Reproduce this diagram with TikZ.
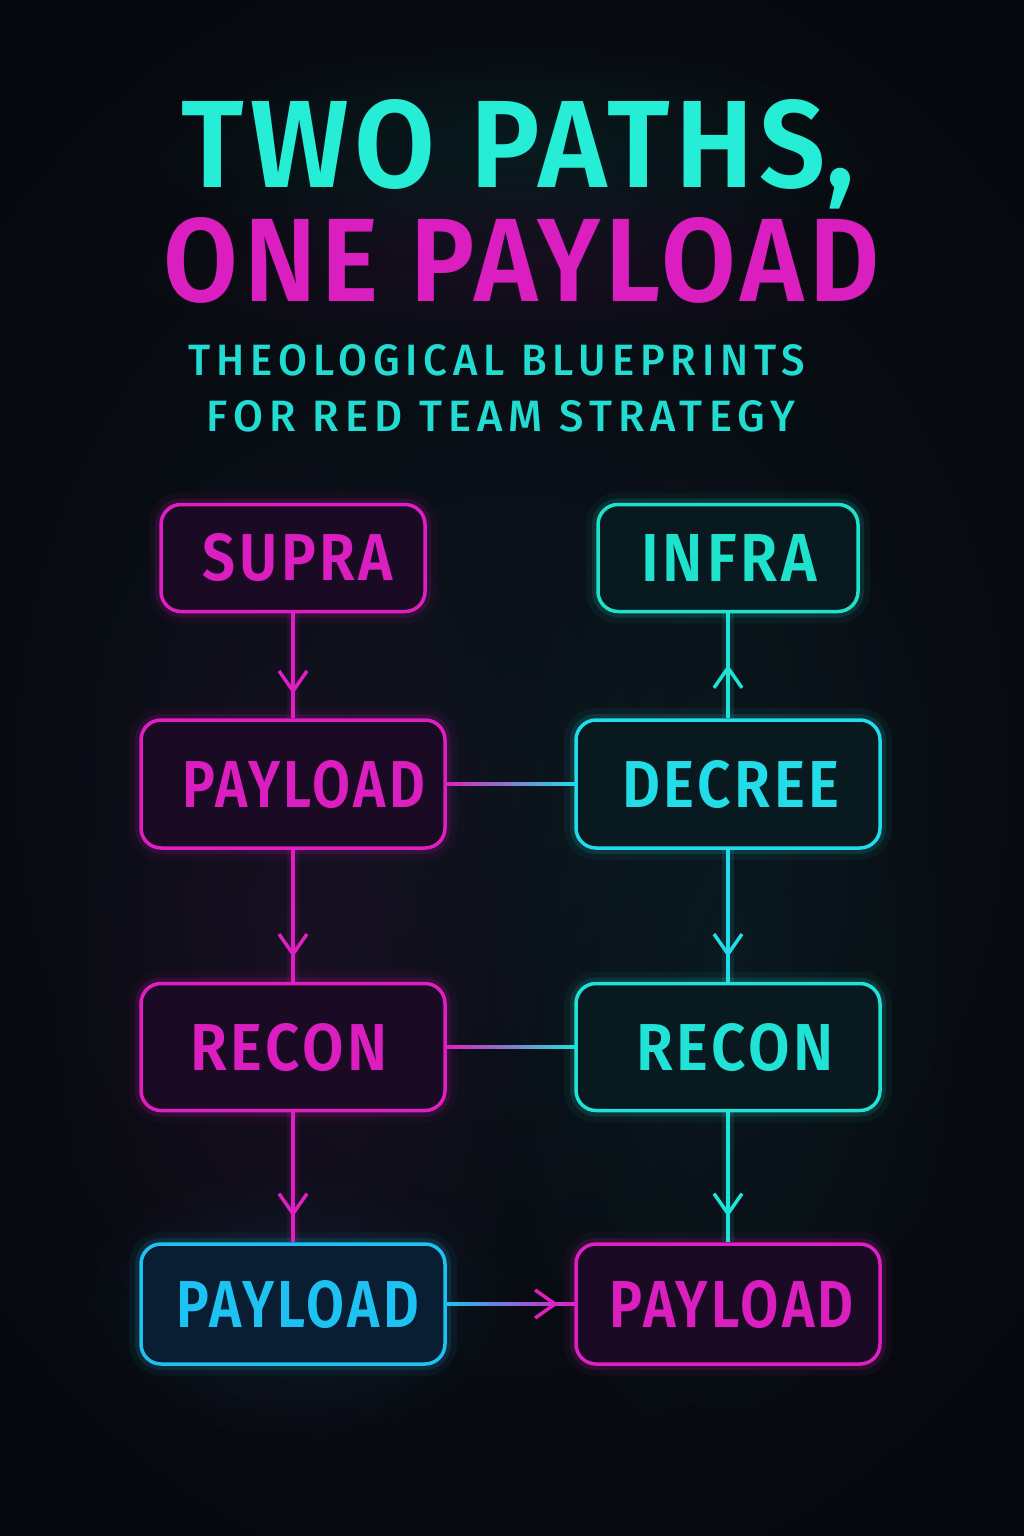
\documentclass[tikz,border=0pt]{standalone}
\usepackage{fontspec}
\usepackage{graphicx}
\newfontfamily\dinfont{Fira Sans SemiBold}[LetterSpace=6]
\newfontfamily\ttlfont{Fira Sans SemiBold}[LetterSpace=5]
\newfontfamily\subfont{Fira Sans Medium}[LetterSpace=14]
\usetikzlibrary{calc,decorations.markings,fadings}
\definecolor{bgc}{HTML}{06080D}
\definecolor{bgmid}{HTML}{0B131B}
\definecolor{mag}{HTML}{E01EC4}
\definecolor{magtext}{HTML}{DA1EBF}
\definecolor{cyI}{HTML}{1EE2CC}
\definecolor{cyD}{HTML}{22DCE8}
\definecolor{cyR}{HTML}{20E2D6}
\definecolor{blu}{HTML}{1EC2F2}
\definecolor{titlecy}{HTML}{26EED6}
\definecolor{subcy}{HTML}{22DCD2}
\definecolor{magfill}{HTML}{1B0A23}
\definecolor{cyfill}{HTML}{081A20}
\definecolor{blufill}{HTML}{091D33}
\tikzfading[name=softglow, inner color=transparent!30, outer color=transparent!100]
\begin{document}
\begin{tikzpicture}[x=1pt,y=-1pt,
  box/.style={draw=#1, rounded corners=20pt, line width=3.5pt, inner sep=0pt,
    preaction={draw=#1, line width=24pt, draw opacity=0.05},
    preaction={draw=#1, line width=12pt, draw opacity=0.12}},
  conn/.style={draw=#1, line width=3.5pt,
    preaction={draw=#1, line width=12pt, draw opacity=0.10}},
  vee/.style 2 args={postaction={decorate}, decoration={markings,
    mark=at position #1 with {\draw[#2, line width=3.5pt, line cap=butt, line join=miter] (-20pt,14pt) -- (0pt,0pt) -- (-20pt,-14pt);}}},
  lbl/.style={inner sep=0pt, font=\dinfont}
]
\useasboundingbox (0,0) rectangle (1024,1536);
\fill[bgc] (0,0) rectangle (1024,1536);
\shade[inner color=bgmid, outer color=bgc] (-200,-100) rectangle (1224,1636);
% ambient glows
\fill[titlecy, opacity=0.10, path fading=softglow] (517,150) ellipse (420 and 120);
\fill[mag, opacity=0.10, path fading=softglow] (517,262) ellipse (420 and 100);
\fill[mag, opacity=0.10, path fading=softglow] (293,960) ellipse (260 and 560);
\fill[cyR, opacity=0.07, path fading=softglow] (728,960) ellipse (260 and 560);
\fill[blu, opacity=0.12, path fading=softglow] (293,1304) ellipse (230 and 140);

% title
\node[lbl, text=titlecy, font=\ttlfont] (t1) at (518,144) {\resizebox{672pt}{88pt}{TWO PATHS\smash{,}}};
\node[lbl, text=magtext, font=\ttlfont] (t2) at (522,260) {\resizebox{716pt}{84pt}{ONE PAYLOAD}};
\node[lbl, text=subcy, font=\subfont] (s1) at (497,360) {\resizebox{616pt}{31pt}{THEOLOGICAL BLUEPRINTS}};
\node[lbl, text=subcy, font=\subfont] (s2) at (501,416) {\resizebox{588pt}{31pt}{FOR RED TEAM STRATEGY}};

% boxes
\node[box=mag, fill=magfill, minimum width=264pt, minimum height=107pt] (sup) at (293,558) {};
\node[box=cyI, fill=cyfill, minimum width=260pt, minimum height=107pt] (inf) at (728,558) {};
\node[box=mag, fill=magfill, minimum width=304pt, minimum height=128pt] (pl) at (293,784) {};
\node[box=cyD, fill=cyfill, minimum width=304pt, minimum height=128pt] (dec) at (728,784) {};
\node[box=mag, fill=magfill, minimum width=304pt, minimum height=127pt] (rl) at (293,1047) {};
\node[box=cyR, fill=cyfill, minimum width=304pt, minimum height=127pt] (rr) at (728,1047) {};
\node[box=blu, fill=blufill, minimum width=304pt, minimum height=120pt] (pb) at (293,1304) {};
\node[box=mag, fill=magfill, minimum width=304pt, minimum height=120pt] (pr) at (728,1304) {};

% labels
\node[lbl, text=magtext] (lsup) at (298,558) {\resizebox{190pt}{47pt}{SUPRA}};
\node[lbl, text=cyI] (linf) at (729,558) {\resizebox{175pt}{47pt}{INFRA}};
\node[lbl, text=magtext] (lpl) at (304,785) {\resizebox{242pt}{47pt}{PAYLOAD}};
\node[lbl, text=cyD] (ldec) at (731,785) {\resizebox{217pt}{47pt}{DECREE}};
\node[lbl, text=magtext] (lrl) at (289,1048) {\resizebox{197pt}{47pt}{RECON}};
\node[lbl, text=cyR] (lrr) at (735,1048) {\resizebox{197pt}{47pt}{RECON}};
\node[lbl, text=blu] (lpb) at (298,1305) {\resizebox{242pt}{47pt}{PAYLOAD}};
\node[lbl, text=magtext] (lpr) at (732,1305) {\resizebox{244pt}{47pt}{PAYLOAD}};

% vertical connectors
\draw[conn=mag, vee={0.74}{mag}] (sup) -- (pl);
\draw[conn=cyR, vee={0.48}{cyR}] (dec) -- (inf);
\draw[conn=mag, vee={0.79}{mag}] (pl) -- (rl);
\draw[conn=cyD, vee={0.79}{cyD}] (dec) -- (rr);
\draw[conn=mag, vee={0.78}{mag}] (rl) -- (pb);
\draw[conn=cyR, vee={0.78}{cyR}] (rr) -- (pr);

% horizontal links
\shade[left color=mag, right color=cyD] ($(pl.east)+(-1,-1.8)$) rectangle ($(dec.west)+(1,1.8)$);
\shade[left color=mag, right color=cyR] ($(rl.east)+(-1,-1.8)$) rectangle ($(rr.west)+(1,1.8)$);
\shade[left color=blu, right color=mag] ($(pb.east)+(-1,-1.8)$) rectangle ($(pr.west)+(1,1.8)$);
\path[vee={0.85}{mag}] (pb) -- (pr);
\end{tikzpicture}
\end{document}
